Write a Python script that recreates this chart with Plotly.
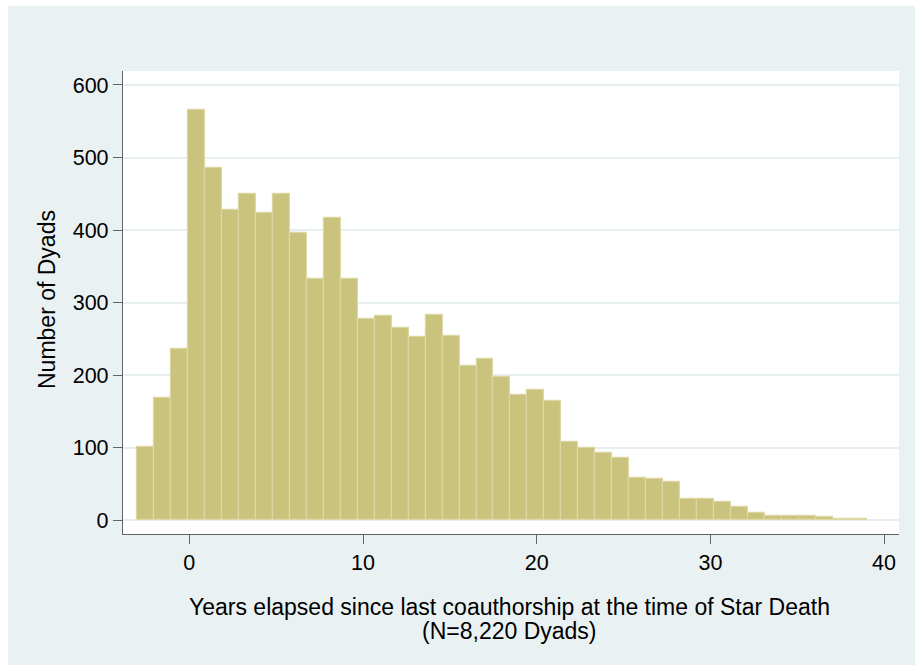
import plotly.graph_objects as go

# Histogram of dyads by years since last coauthorship (43 equal-width bins)
bin_start = -3
bin_end = 39
n_bins = 43
counts = [101, 168, 236, 565, 485, 428, 449, 424, 450, 396,
          332, 416, 333, 277, 281, 265, 253, 283, 254, 213,
          222, 197, 173, 180, 164, 107, 99, 93, 86, 58,
          57, 52, 29, 29, 25, 18, 10, 6, 5, 6,
          4, 2, 2]

y_ticks = [0, 100, 200, 300, 400, 500, 600]
x_ticks = [0, 10, 20, 30, 40]

x_title = "Years elapsed since last coauthorship at the time of Star Death"
x_subtitle = "(N=8,220 Dyads)"
y_title = "Number of Dyads"

bin_width = (bin_end - bin_start) / n_bins
centers = [bin_start + (k + 0.5) * bin_width for k in range(len(counts))]

OUTER_BG = "#EAF1F3"
BAR_FILL = "#CAC37E"
BAR_EDGE = "#DDD7A3"
AXIS_COL = "#5F6466"
GRID_COL = "#E6EEF1"
FONT = "Liberation Sans, Arial, sans-serif"

fig = go.Figure()
fig.add_trace(go.Bar(
    x=centers, y=counts, width=bin_width,
    marker=dict(color=BAR_FILL, line=dict(color=BAR_EDGE, width=1.2)),
    hoverinfo="x+y",
))

W, H = 915, 666
ml, mr, mt, mb = 123, 16, 71, 132
pw, ph = W - ml - mr, H - mt - mb


def px_to_paper_x(px):
    return (px - ml) / pw


def px_to_paper_y(py):
    return (H - mb - py) / ph


shapes = [
    # outer graph region
    dict(type="rect", xref="paper", yref="paper", layer="below",
         x0=px_to_paper_x(8), x1=px_to_paper_x(W + 2),
         y0=px_to_paper_y(665), y1=px_to_paper_y(6),
         fillcolor=OUTER_BG, line=dict(width=0)),
    # plot region
    dict(type="rect", xref="paper", yref="paper", layer="below",
         x0=0, x1=1, y0=0, y1=1,
         fillcolor="white", line=dict(width=0)),
]

annotations = [
    dict(text=x_title, xref="paper", yref="paper",
         x=px_to_paper_x(509), y=px_to_paper_y(607),
         xanchor="center", yanchor="middle", showarrow=False,
         font=dict(family=FONT, size=23, color="black")),
    dict(text=x_subtitle, xref="paper", yref="paper",
         x=px_to_paper_x(509), y=px_to_paper_y(631),
         xanchor="center", yanchor="middle", showarrow=False,
         font=dict(family=FONT, size=23, color="black")),
    dict(text=y_title, xref="paper", yref="paper",
         x=px_to_paper_x(47), y=px_to_paper_y(300),
         xanchor="center", yanchor="middle", showarrow=False, textangle=-90,
         font=dict(family=FONT, size=23, color="black")),
]

fig.update_layout(
    width=W, height=H,
    margin=dict(l=ml, r=mr, t=mt, b=mb, autoexpand=False),
    paper_bgcolor="white",
    plot_bgcolor="white",
    bargap=0,
    showlegend=False,
    shapes=shapes,
    annotations=annotations,
    font=dict(family=FONT, color="black"),
)

fig.update_xaxes(
    range=[-3.82, 40.86],
    tickvals=x_ticks, ticktext=[str(v) for v in x_ticks],
    showgrid=False, zeroline=False,
    showline=True, linecolor=AXIS_COL, linewidth=1.3,
    ticks="outside", ticklen=9, tickwidth=1.3, tickcolor=AXIS_COL,
    tickfont=dict(family=FONT, size=21.5, color="black"),
)
fig.update_yaxes(
    range=[-19.3, 619.3],
    tickvals=y_ticks, ticktext=[str(v) for v in y_ticks],
    showgrid=True, gridcolor=GRID_COL, gridwidth=1.8,
    zeroline=False,
    showline=True, linecolor=AXIS_COL, linewidth=1.3,
    ticks="outside", ticklen=9, tickwidth=1.3, tickcolor=AXIS_COL,
    tickfont=dict(family=FONT, size=21.5, color="black"),
)

fig.write_html("out.html")
